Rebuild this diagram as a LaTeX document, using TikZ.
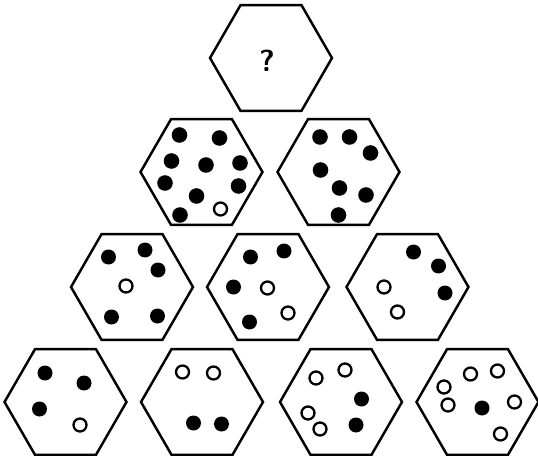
\documentclass[tikz,border=0pt]{standalone}
\usetikzlibrary{shapes.geometric,calc}
\begin{document}
\begin{tikzpicture}[
    x=0.02cm, y=-0.02cm,
    cell/.style={draw, line width=1.4pt, regular polygon, regular polygon sides=6, minimum size=2.44cm, inner sep=0pt},
    full/.style={fill=black},
    hollow/.style={draw=black, line width=1.3pt, fill=white},
    ask/.style={font=\sffamily\bfseries\LARGE}
]
\useasboundingbox (0,0) rectangle (538,456);

% hexagon pyramid
\node[cell] (h11) at (271,58) {};
\node[cell] (h21) at (201.5,172) {};
\node[cell] (h22) at (338.5,172) {};
\node[cell] (h31) at (132,287) {};
\node[cell] (h32) at (268,287) {};
\node[cell] (h33) at (407.5,287) {};
\node[cell] (h41) at (65.5,402) {};
\node[cell] (h42) at (202,402) {};
\node[cell] (h43) at (341,402) {};
\node[cell] (h44) at (477.5,402) {};

\node[ask] (q) at ($(h11)+(-4,3)$) {?};

% second row
\foreach \dx/\dy in {-22/-37, 18/-34, -30/-11, 4.5/-7, 38.5/-9, -36.5/11, 37/14, -5/24, -21.5/43}
    \fill[full] ($(h21)+(\dx,\dy)$) circle (7.8);
\draw[hollow] ($(h21)+(19,37)$) circle (6.5);
\foreach \dx/\dy in {-18.5/-35, 11/-35, 32/-19, -18/-2, 1/16, 27.5/23, 0/43}
    \fill[full] ($(h22)+(\dx,\dy)$) circle (7.8);

% third row
\foreach \dx/\dy in {-23.5/-30, 13/-37, 26/-17, -20.5/30, 25.5/29}
    \fill[full] ($(h31)+(\dx,\dy)$) circle (7.5);
\draw[hollow] ($(h31)+(-6,-1)$) circle (6.5);
\foreach \dx/\dy in {-17.5/-30, 16/-36, -34.5/0, -18.5/35}
    \fill[full] ($(h32)+(\dx,\dy)$) circle (7.5);
\foreach \dx/\dy in {-0.5/1, 20/26}
    \draw[hollow] ($(h32)+(\dx,\dy)$) circle (6.5);
\foreach \dx/\dy in {6/-35, 31/-21, 37.5/6}
    \fill[full] ($(h33)+(\dx,\dy)$) circle (7.5);
\foreach \dx/\dy in {-23.5/0, -10/25}
    \draw[hollow] ($(h33)+(\dx,\dy)$) circle (6.5);

% bottom row
\foreach \dx/\dy in {-20.5/-29, 18.5/-19, -26/7}
    \fill[full] ($(h41)+(\dx,\dy)$) circle (7.5);
\draw[hollow] ($(h41)+(14.5,23)$) circle (6.5);
\foreach \dx/\dy in {-8.5/21, 19.5/22}
    \fill[full] ($(h42)+(\dx,\dy)$) circle (7.5);
\foreach \dx/\dy in {-19.5/-30, 11.5/-29}
    \draw[hollow] ($(h42)+(\dx,\dy)$) circle (6.5);
\foreach \dx/\dy in {20.5/-3, 15/23}
    \fill[full] ($(h43)+(\dx,\dy)$) circle (7.5);
\foreach \dx/\dy in {-25/-24, 4/-32, -33/11, -21/27}
    \draw[hollow] ($(h43)+(\dx,\dy)$) circle (6.5);
\fill[full] ($(h44)+(4.5,6)$) circle (7.5);
\foreach \dx/\dy in {-33.5/-15, -29.5/3, -7/-28, 20/-31, 37/0, 23/32}
    \draw[hollow] ($(h44)+(\dx,\dy)$) circle (6.5);
\end{tikzpicture}
\end{document}
